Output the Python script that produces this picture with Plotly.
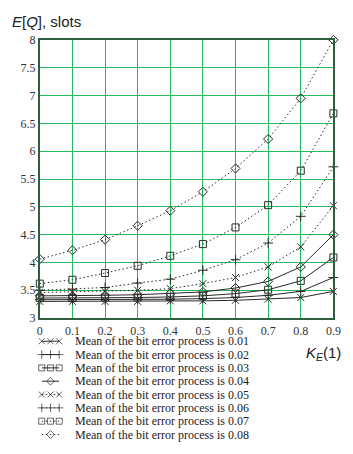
import plotly.graph_objects as go

W, H = 353, 454

k_values = [0.0, 0.1, 0.2, 0.3, 0.4, 0.5, 0.6, 0.7, 0.8, 0.9]

means = ["0.01", "0.02", "0.03", "0.04", "0.05", "0.06", "0.07", "0.08"]

eq_001 = [3.30, 3.30, 3.30, 3.30, 3.31, 3.31, 3.32, 3.34, 3.37, 3.48]
eq_002 = [3.33, 3.33, 3.33, 3.34, 3.34, 3.35, 3.37, 3.41, 3.48, 3.73]
eq_003 = [3.36, 3.36, 3.37, 3.37, 3.38, 3.40, 3.44, 3.51, 3.67, 4.09]
eq_004 = [3.40, 3.40, 3.41, 3.42, 3.44, 3.47, 3.54, 3.66, 3.92, 4.50]
eq_005 = [3.46, 3.47, 3.48, 3.50, 3.53, 3.62, 3.73, 3.92, 4.28, 5.02]
eq_006 = [3.50, 3.52, 3.55, 3.63, 3.70, 3.86, 4.05, 4.35, 4.83, 5.72]
eq_007 = [3.62, 3.69, 3.81, 3.94, 4.12, 4.33, 4.63, 5.03, 5.65, 6.68]
eq_008 = [4.06, 4.22, 4.41, 4.66, 4.93, 5.27, 5.69, 6.22, 6.95, 8.00]

series = [eq_001, eq_002, eq_003, eq_004, eq_005, eq_006, eq_007, eq_008]
symbols = ["x-thin-open", "cross-thin-open", "square-open", "diamond-open"] * 2
dashes = ["solid"] * 4 + ["1.5px,2.5px"] * 4
msizes = [7, 7, 7, 7, 7, 7, 7, 7]

y_ticks = [3, 3.5, 4, 4.5, 5, 5.5, 6, 6.5, 7, 7.5, 8]
y_ticklabels = ["3", "3.5", "4", "4.5", "5", "5.5", "6", "6.5", "7", "7.5", "8"]
x_ticks = k_values
x_ticklabels = ["0", "0.1", "0.2", "0.3", "0.4", "0.5", "0.6", "0.7", "0.8", "0.9"]

LINE = "#2a2a2a"
GRID = "rgb(40,185,95)"
FRAME = "#2f5e3e"
SERIF = "Liberation Serif, Times New Roman, serif"
SANS = "Liberation Sans, Arial, sans-serif"

fig = go.Figure()

for ys, sym, dash, ms in zip(series, symbols, dashes, msizes):
    fig.add_trace(go.Scatter(
        x=k_values, y=ys, mode="lines+markers",
        line=dict(color=LINE, width=1, dash=dash),
        marker=dict(symbol=sym, size=ms, color=LINE, line=dict(color=LINE, width=1)),
        cliponaxis=False, showlegend=False,
        xaxis="x", yaxis="y",
    ))

# hand-built legend (compact rows like the reference)
for i, (m, sym, dash, ms) in enumerate(zip(means, symbols, dashes, msizes)):
    if "diamond" in sym:
        sizes = [0, ms - 1, 0]
    else:
        sizes = [ms - 1] * 3
    fig.add_trace(go.Scatter(
        x=[0, 1, 2], y=[i, i, i], mode="lines+markers",
        line=dict(color=LINE, width=1, dash=dash),
        marker=dict(symbol=sym, size=sizes, color=LINE, line=dict(color=LINE, width=1)),
        cliponaxis=False, showlegend=False, hoverinfo="skip",
        xaxis="x2", yaxis="y2",
    ))
    fig.add_annotation(
        text=f"Mean of the bit error process is {m}",
        xref="paper", yref="y2", x=72 / W, y=i,
        xanchor="left", yanchor="middle", showarrow=False,
        font=dict(family=SERIF, size=12, color="#222"),
    )

fig.add_annotation(
    text="<i>E</i>[<i>Q</i>], slots", xref="paper", yref="paper",
    x=7 / W, y=1 - 15 / H, xanchor="left", yanchor="middle", showarrow=False,
    font=dict(family=SANS, size=15, color="#222"),
)
fig.add_annotation(
    text="<i>K</i><sub><i>E</i></sub>(1)", xref="paper", yref="paper",
    x=351 / W, y=1 - 358 / H, xanchor="right", yanchor="middle", showarrow=False,
    font=dict(family=SANS, size=15, color="#222"),
)

fig.update_layout(
    width=W, height=H,
    margin=dict(l=0, r=0, t=0, b=0),
    paper_bgcolor="white", plot_bgcolor="white",
    showlegend=False,
    xaxis=dict(
        domain=[38 / W, 341 / W], range=[0, 0.9],
        tickvals=x_ticks, ticktext=x_ticklabels,
        showgrid=True, gridcolor=GRID, gridwidth=1,
        showline=True, linecolor=FRAME, linewidth=2, mirror=True,
        zeroline=False, ticks="",
        tickfont=dict(family=SERIF, size=12, color="#333"),
        anchor="y",
    ),
    yaxis=dict(
        domain=[1 - 321 / H, 1 - 34 / H], range=[3, 8],
        tickvals=y_ticks, ticktext=y_ticklabels,
        showgrid=True, gridcolor=GRID, gridwidth=1,
        showline=True, linecolor=FRAME, linewidth=2, mirror=True,
        zeroline=False, ticks="",
        tickfont=dict(family=SERIF, size=12, color="#333"),
        anchor="x",
    ),
    xaxis2=dict(
        domain=[40 / W, 58 / W], range=[0, 2], visible=False, anchor="y2",
    ),
    yaxis2=dict(
        domain=[1 - 448 / H, 1 - 338 / H], range=[7.5, -0.5], visible=False, anchor="x2",
    ),
)

fig.write_html("out.html")
